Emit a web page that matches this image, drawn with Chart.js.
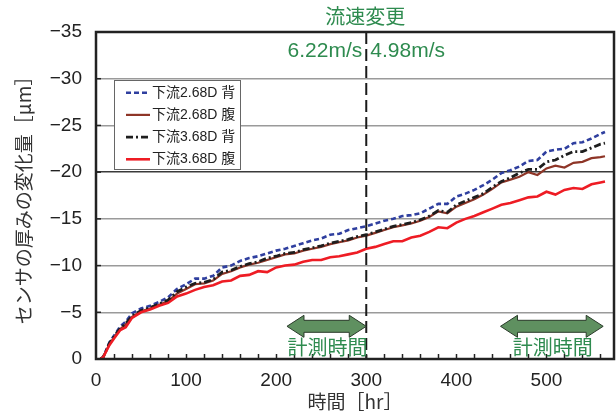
<!DOCTYPE html>
<html><head><meta charset="utf-8">
<script src="https://cdn.jsdelivr.net/npm/chart.js@4/dist/chart.umd.min.js"></script>
<style>html,body{margin:0;padding:0;background:#fff}</style>
</head><body>
<canvas id="c" width="616" height="411"></canvas>
<script>
// ---- data ----
const hours = [5,8,15,20,27,33,40,
  50,60,70,80,90,100,110,120,130,140,150,160,170,180,190,200,210,220,230,240,250,260,270,280,290,
  300,310,320,330,340,350,360,370,380,390,400,410,420,430,440,450,460,470,480,490,500,510,520,530,540,550,560,565];
const seriesLabels = ['下流2.68D 背','下流2.68D 腹','下流3.68D 背','下流3.68D 腹'];
const up268back = [0,-0.2,-1.8,-2.5,-3.5,-4.0,-4.9,
  -5.4,-5.7,-6.1,-6.6,-7.5,-8.0,-8.6,-8.6,-8.9,-9.8,-10.0,-10.5,-10.8,-11.0,-11.3,
  -11.6,-11.8,-12.1,-12.4,-12.7,-12.9,-13.3,-13.4,-13.8,-14.0,
  -14.2,-14.5,-14.8,-15.0,-15.3,-15.4,-15.6,-16.1,-16.6,-16.6,
  -17.4,-17.7,-18.1,-18.6,-19.2,-19.9,-20.2,-20.6,-21.2,-21.3,
  -22.2,-22.4,-22.5,-23.1,-23.2,-23.6,-24.1,-24.3];
const up268belly = [0,-0.2,-1.6,-2.3,-3.2,-3.7,-4.5,
  -5.1,-5.4,-5.8,-6.2,-7.0,-7.5,-8.0,-8.1,-8.4,-9.1,-9.4,-9.8,-10.1,-10.3,-10.6,
  -10.9,-11.2,-11.3,-11.6,-11.8,-12.0,-12.3,-12.5,-12.7,-13.0,
  -13.2,-13.5,-13.8,-14.1,-14.3,-14.5,-14.8,-15.2,-15.8,-15.6,
  -16.3,-16.7,-17.1,-17.6,-18.2,-18.9,-19.2,-19.5,-20.0,-19.7,
  -20.4,-20.7,-20.5,-21.0,-21.1,-21.5,-21.6,-21.7];
const up368back = [0,-0.2,-1.7,-2.4,-3.3,-3.8,-4.6,
  -5.2,-5.5,-5.9,-6.3,-7.2,-7.7,-8.1,-8.2,-8.5,-9.3,-9.5,-9.9,-10.2,-10.4,-10.8,
  -11.0,-11.3,-11.4,-11.7,-11.9,-12.1,-12.4,-12.6,-12.8,-13.1,
  -13.3,-13.6,-13.9,-14.2,-14.4,-14.6,-14.9,-15.3,-15.9,-15.7,
  -16.5,-16.9,-17.3,-17.7,-18.4,-19.0,-19.4,-19.9,-20.3,-20.3,
  -21.1,-21.3,-21.8,-22.2,-22.2,-22.6,-23.0,-23.1];
const up368belly = [0,-0.2,-1.5,-2.2,-3.1,-3.4,-4.4,
  -5.0,-5.3,-5.7,-6.0,-6.7,-7.0,-7.4,-7.7,-7.9,-8.3,-8.4,-8.9,-9.0,-9.4,-9.3,
  -9.8,-10.0,-10.1,-10.4,-10.6,-10.6,-10.9,-11.0,-11.2,-11.4,
  -11.8,-12.0,-12.3,-12.6,-12.6,-13.0,-13.2,-13.6,-14.1,-14.0,
  -14.6,-15.0,-15.3,-15.7,-16.1,-16.5,-16.7,-17.0,-17.3,-17.4,
  -17.9,-17.6,-18.1,-18.3,-18.2,-18.7,-18.9,-19.0];
const yTicks = [0,-5,-10,-15,-20,-25,-30,-35];
const xTickLabels = [0,100,200,300,400,500];
const changeHour = 300;
const speedBefore = '6.22m/s', speedAfter = '4.98m/s';
const changeLabel = '流速変更';
const measureLabel = '計測時間';
const measureSpans = [[212,300],[449,563]];

const toXY = vals => hours.map((h,i)=>({x:h,y:vals[i]}));
const JP = "'Noto Sans CJK JP', sans-serif";
const LAT = "'Liberation Sans', Arial, 'Noto Sans CJK JP', sans-serif";
const GREEN = '#2e8b4f';

const styles = [
  {color:'#2f3f9f', dash:[5,3], width:2.6},
  {color:'#8e3527', dash:[], width:2.2},
  {color:'#1e1e1e', dash:[7,3,2,3], width:2.8},
  {color:'#ee1c24', dash:[], width:2.6}
];
const allVals = [up268back, up268belly, up368back, up368belly];

const overlay = {
  id:'overlay',
  afterDatasetsDraw(chart){
    const {ctx, chartArea:a, scales:{x,y}} = chart;
    ctx.save();
    // vertical dashed line
    const xc = x.getPixelForValue(changeHour);
    ctx.strokeStyle='#1a1a1a'; ctx.lineWidth=2; ctx.setLineDash([12,5]);
    ctx.beginPath(); ctx.moveTo(xc,a.top); ctx.lineTo(xc,a.bottom); ctx.stroke();
    ctx.setLineDash([]);
    // inward ticks
    ctx.strokeStyle='#222'; ctx.lineWidth=1.5;
    x.ticks.forEach(t=>{ if(t.value<=0) return; const px=Math.round(x.getPixelForValue(t.value))+0.5;
      ctx.beginPath(); ctx.moveTo(px,a.bottom); ctx.lineTo(px,a.bottom-5); ctx.stroke();});
    y.ticks.forEach(t=>{ const py=y.getPixelForValue(t.value);
      ctx.beginPath(); ctx.moveTo(a.left,py); ctx.lineTo(a.left+5,py); ctx.stroke();});
    // frame
    ctx.lineWidth=2.5; ctx.strokeStyle='#222';
    ctx.strokeRect(a.left,a.top,a.right-a.left,a.bottom-a.top);
    // arrows
    const yc = y.getPixelForValue(-3.5), hl=17, hh=11, sh=6;
    measureSpans.forEach(([h1,h2])=>{
      const x1=x.getPixelForValue(h1), x2=x.getPixelForValue(h2);
      ctx.beginPath();
      ctx.moveTo(x1,yc); ctx.lineTo(x1+hl,yc-hh); ctx.lineTo(x1+hl,yc-sh); ctx.lineTo(x2-hl,yc-sh);
      ctx.lineTo(x2-hl,yc-hh); ctx.lineTo(x2,yc); ctx.lineTo(x2-hl,yc+hh); ctx.lineTo(x2-hl,yc+sh);
      ctx.lineTo(x1+hl,yc+sh); ctx.lineTo(x1+hl,yc+hh); ctx.closePath();
      ctx.fillStyle='#5f9060'; ctx.fill(); ctx.strokeStyle='#2a3a2a'; ctx.lineWidth=1; ctx.stroke();
      ctx.fillStyle=GREEN; ctx.font='20px '+JP; ctx.textAlign='center'; ctx.textBaseline='middle';
      ctx.fillText(measureLabel,(x1+x2)/2+1,y.getPixelForValue(-1.2));
    });
    // top annotations
    ctx.fillStyle=GREEN; ctx.textBaseline='middle';
    ctx.font='20px '+JP; ctx.textAlign='center';
    ctx.fillText(changeLabel,xc-1,16);
    ctx.font='21px '+LAT;
    ctx.textAlign='right'; ctx.fillText(speedBefore,xc-4,51);
    ctx.textAlign='left'; ctx.fillText(speedAfter,xc+4,51);
    // legend
    const lx=114.5, ly=80.5, lw=126, lh=89;
    ctx.fillStyle='#fff'; ctx.fillRect(lx,ly,lw,lh);
    ctx.strokeStyle='#666'; ctx.lineWidth=1; ctx.strokeRect(lx,ly,lw,lh);
    chart.data.datasets.forEach((ds,i)=>{
      const ry = 92.7 + i*22.2;
      ctx.strokeStyle=ds.borderColor; ctx.lineWidth=ds.borderWidth; ctx.setLineDash(ds.borderDash||[]);
      ctx.beginPath(); ctx.moveTo(126,ry); ctx.lineTo(150,ry); ctx.stroke();
      ctx.setLineDash([]);
      ctx.fillStyle='#222'; ctx.font='14px '+LAT; ctx.textAlign='left'; ctx.textBaseline='middle';
      ctx.fillText(ds.label,152,ry);
    });
    ctx.restore();
  }
};

new Chart(document.getElementById('c'), {
  type:'line',
  data:{
    datasets: allVals.map((v,i)=>({
      label: seriesLabels[i], data: toXY(v),
      borderColor: styles[i].color, borderDash: styles[i].dash, borderWidth: styles[i].width,
      pointRadius:0, tension:0, fill:false, order: i===3?0:(i===2?1:(i===1?2:3))
    }))
  },
  options:{
    responsive:false, animation:false, devicePixelRatio:1,
    layout:{padding:{top:32,right:2,left:0,bottom:0}},
    plugins:{legend:{display:false}, tooltip:{enabled:false}},
    scales:{
      x:{type:'linear', min:0, max:575,
        afterFit(s){ s.height = 52; },
        grid:{display:false, drawTicks:false}, border:{display:false},
        ticks:{stepSize:20, includeBounds:false, autoSkip:false, maxRotation:0, padding:10,
          color:'#222', font:{family:LAT, size:19},
          callback:v=> xTickLabels.includes(v) ? String(v) : ''},
        title:{display:true, text:'時間［hr］', color:'#333', font:{family:JP, size:19, lineHeight:1}, padding:{top:0,bottom:0}}
      },
      y:{type:'linear', min:-35, max:0, reverse:true,
        afterFit(s){ s.width = 96; },
        afterBuildTicks(s){ s.ticks = yTicks.map(v=>({value:v})); },
        grid:{drawTicks:false, color:c=> c.tick && c.tick.value===-20 ? '#3a3a3a' : '#9a9a9a', lineWidth:1.4},
        border:{display:false},
        ticks:{padding:14, color:'#222', font:{family:LAT, size:19},
          callback:v=> String(v).replace('-','\u2212')},
        title:{display:true, text:'センサの厚みの変化量［μm］', color:'#333', font:{family:JP, size:19, lineHeight:1}, padding:{top:14,bottom:0}}
      }
    }
  },
  plugins:[overlay]
});
</script>
</body></html>
